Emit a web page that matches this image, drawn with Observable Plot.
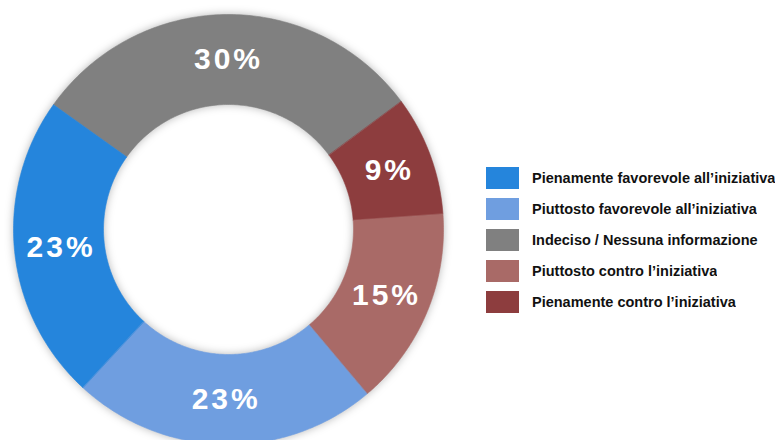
<!DOCTYPE html>
<html>
<head>
<meta charset="utf-8">
<script src="https://cdn.jsdelivr.net/npm/d3@7"></script>
<script src="https://cdn.jsdelivr.net/npm/@observablehq/plot@0.6"></script>
<style>
  body { margin: 0; background: #fff; }
  #wrap { position: relative; width: 776px; height: 440px; overflow: hidden; }
  #chart svg { display: block; }
  #legend { position: absolute; left: 486px; top: 167px; width: 290px; }
  .lg-swatches { font: bold 14.5px "Liberation Sans", Arial, sans-serif !important; color: #111; margin: 0 !important; }
  .lg-swatch { padding-bottom: 9px !important; margin: 0 !important; }
  .lg-swatch > svg { margin-right: 13px !important; }
  .lg-label { overflow: visible !important; text-overflow: clip !important; }
  .donut g[aria-label="line"] { filter: drop-shadow(0 0 4px rgba(0,0,0,0.28)); }
  .donut g[aria-label="text"] text { letter-spacing: 3px; }
</style>
</head>
<body>
<div id="wrap"><div id="chart"></div><div id="legend"></div></div>
<script>
// Categories in legend order
const categories = [
  "Pienamente favorevole all’iniziativa",
  "Piuttosto favorevole all’iniziativa",
  "Indeciso / Nessuna informazione",
  "Piuttosto contro l’iniziativa",
  "Pienamente contro l’iniziativa"
];
const values = [23, 23, 30, 15, 9];
const colors = ["#2585dc", "#6f9ee0", "#808080", "#a96a67", "#8d3d3e"];
// Order of slices going clockwise, and starting angle (degrees from 12 o'clock)
const clockwiseOrder = [2, 4, 3, 1, 0];
const startAngle = -54.5;
const innerRatio = 125 / 215;
const labelRadius = 0.79;

const total = d3.sum(values);
const rows = [];
const labels = [];
let a = startAngle * Math.PI / 180;
for (const i of clockwiseOrder) {
  const span = values[i] / total * 2 * Math.PI;
  const a0 = a, a1 = a + span;
  const n = 120;
  for (let k = 0; k <= n; k++) {
    const t = a0 + (a1 - a0) * k / n;
    rows.push({key: categories[i], x: Math.sin(t), y: Math.cos(t)});
  }
  for (let k = n; k >= 0; k--) {
    const t = a0 + (a1 - a0) * k / n;
    rows.push({key: categories[i], x: innerRatio * Math.sin(t), y: innerRatio * Math.cos(t)});
  }
  const m = (a0 + a1) / 2;
  labels.push({text: values[i] + "%", x: labelRadius * Math.sin(m), y: labelRadius * Math.cos(m)});
  a = a1;
}

const chart = Plot.plot({
  width: 776,
  height: 440,
  className: "donut",
  x: {domain: [-1, 1], range: [13, 443], axis: null},
  y: {domain: [-1, 1], range: [444, 14], axis: null},
  color: {domain: categories, range: colors},
  marks: [
    Plot.line(rows, {x: "x", y: "y", z: "key", fill: "key", stroke: "key", strokeWidth: 0.6, curve: "linear-closed"}),
    Plot.text(labels, {x: "x", y: "y", text: "text", fill: "white", fontSize: 30, fontWeight: "bold", fontFamily: "Liberation Sans, Arial, sans-serif", dx: 1.5})
  ]
});
document.getElementById("chart").appendChild(chart);

const legend = Plot.legend({
  color: {type: "ordinal", domain: categories, range: colors},
  legend: "swatches",
  columns: 1,
  swatchWidth: 33,
  swatchHeight: 22,
  className: "lg"
});
document.getElementById("legend").appendChild(legend);
</script>
</body>
</html>
